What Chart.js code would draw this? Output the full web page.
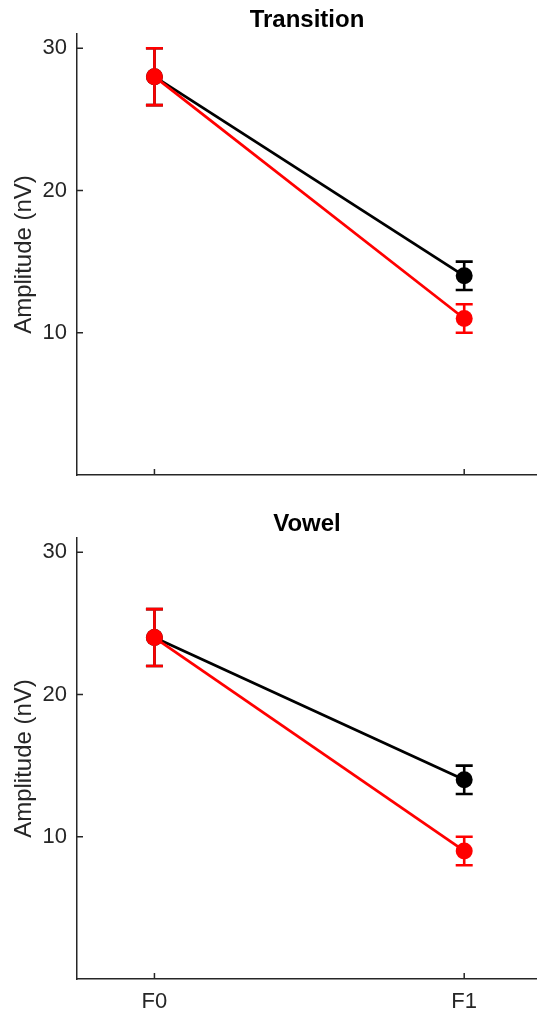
<!DOCTYPE html>
<html>
<head>
<meta charset="utf-8">
<script src="https://cdn.jsdelivr.net/npm/chart.js@4"></script>
<style>
  html, body { margin: 0; padding: 0; background: #fff; overflow: hidden; }
  canvas { position: absolute; left: 0; }
  #c1 { top: 0; }
  #c2 { top: 504px; }
</style>
</head>
<body>
<canvas id="c1" width="537" height="508"></canvas>
<canvas id="c2" width="537" height="508"></canvas>
<script>
const categories = ['F0', 'F1'];
const yTicks = [10, 20, 30];

// Transition panel
const transBlack = [28, 14];
const transBlackErr = [2, 1];
const transRed = [28, 11];
const transRedErr = [2, 1];

// Vowel panel
const vowelBlack = [24, 14];
const vowelBlackErr = [2, 1];
const vowelRed = [24, 9];
const vowelRedErr = [2, 1];

const axisColor = '#262626';
const fontFamily = '"Liberation Sans", Arial, sans-serif';

// vertical error bars with caps
const errorBars = {
  id: 'errorBars',
  beforeDatasetDraw(chart, args) {
    const ds = chart.data.datasets[args.index];
    if (!ds.err) return;
    const {x, y} = chart.scales;
    const ctx = chart.ctx;
    ctx.save();
    ctx.strokeStyle = ds.borderColor;
    ctx.lineWidth = 2.6;
    ds.data.forEach((p, i) => {
      const px = x.getPixelForValue(p.x);
      const top = y.getPixelForValue(p.y + ds.err[i]);
      const bot = y.getPixelForValue(p.y - ds.err[i]);
      ctx.beginPath();
      ctx.moveTo(px, top); ctx.lineTo(px, bot);
      ctx.moveTo(px - 8.5, top); ctx.lineTo(px + 8.5, top);
      ctx.moveTo(px - 8.5, bot); ctx.lineTo(px + 8.5, bot);
      ctx.stroke();
    });
    ctx.restore();
  }
};

// MATLAB-style inward tick marks
const innerTicks = {
  id: 'innerTicks',
  afterDraw(chart) {
    const {x, y} = chart.scales;
    const a = chart.chartArea;
    const ctx = chart.ctx;
    ctx.save();
    ctx.strokeStyle = axisColor;
    ctx.lineWidth = 1.5;
    ctx.beginPath();
    y.ticks.forEach(t => {
      const py = y.getPixelForValue(t.value);
      ctx.moveTo(a.left, py); ctx.lineTo(a.left + 6, py);
    });
    x.ticks.forEach(t => {
      const px = x.getPixelForValue(t.value);
      ctx.moveTo(px, a.bottom); ctx.lineTo(px, a.bottom - 6);
    });
    ctx.stroke();
    ctx.restore();
  }
};

function series(vals, err, color) {
  return {
    data: categories.map((c, i) => ({x: i, y: vals[i]})),
    err: err,
    borderColor: color,
    backgroundColor: color,
    borderWidth: 2.8,
    pointRadius: 8.5,
    pointBorderWidth: 0,
    pointBackgroundColor: color,
    tension: 0
  };
}

function makePanel(id, title, black, blackErr, red, redErr, showX) {
  new Chart(document.getElementById(id), {
    type: 'line',
    data: {
      // first dataset is drawn on top
      datasets: [
        series(red, redErr, '#ff0000'),
        series(black, blackErr, '#000000')
      ]
    },
    plugins: [errorBars, innerTicks],
    options: {
      responsive: false,
      animation: false,
      devicePixelRatio: 1,
      layout: { padding: 0, autoPadding: false },
      plugins: {
        legend: { display: false },
        tooltip: { enabled: false },
        title: {
          display: true,
          text: title,
          fullSize: false,
          color: '#000',
          font: { family: fontFamily, size: 24, weight: 'bold', lineHeight: 1.1 },
          padding: { top: 7.6, bottom: 0 }
        }
      },
      scales: {
        x: {
          type: 'linear',
          min: -0.25,
          max: 1.235,
          afterBuildTicks: s => { s.ticks = categories.map((c, i) => ({value: i})); },
          afterFit: s => { s.height = 33; },
          grid: { display: true, drawOnChartArea: false, drawTicks: false },
          border: { display: true, color: axisColor, width: 1.5 },
          ticks: {
            display: showX,
            color: axisColor,
            padding: 10,
            font: { family: fontFamily, size: 22 },
            callback: v => categories[v]
          }
        },
        y: {
          min: 0,
          max: 31,
          afterBuildTicks: s => { s.ticks = yTicks.map(v => ({value: v})); },
          afterFit: s => { s.width = 77; },
          grid: { display: true, drawOnChartArea: false, drawTicks: false },
          border: { display: true, color: axisColor, width: 1.5 },
          ticks: {
            color: axisColor,
            padding: 10,
            font: { family: fontFamily, size: 22 }
          },
          title: {
            display: true,
            text: 'Amplitude (nV)',
            color: axisColor,
            font: { family: fontFamily, size: 24 },
            padding: { top: 9.5, bottom: 0 }
          }
        }
      }
    }
  });
}

makePanel('c1', 'Transition', transBlack, transBlackErr, transRed, transRedErr, false);
makePanel('c2', 'Vowel', vowelBlack, vowelBlackErr, vowelRed, vowelRedErr, true);
</script>
</body>
</html>
